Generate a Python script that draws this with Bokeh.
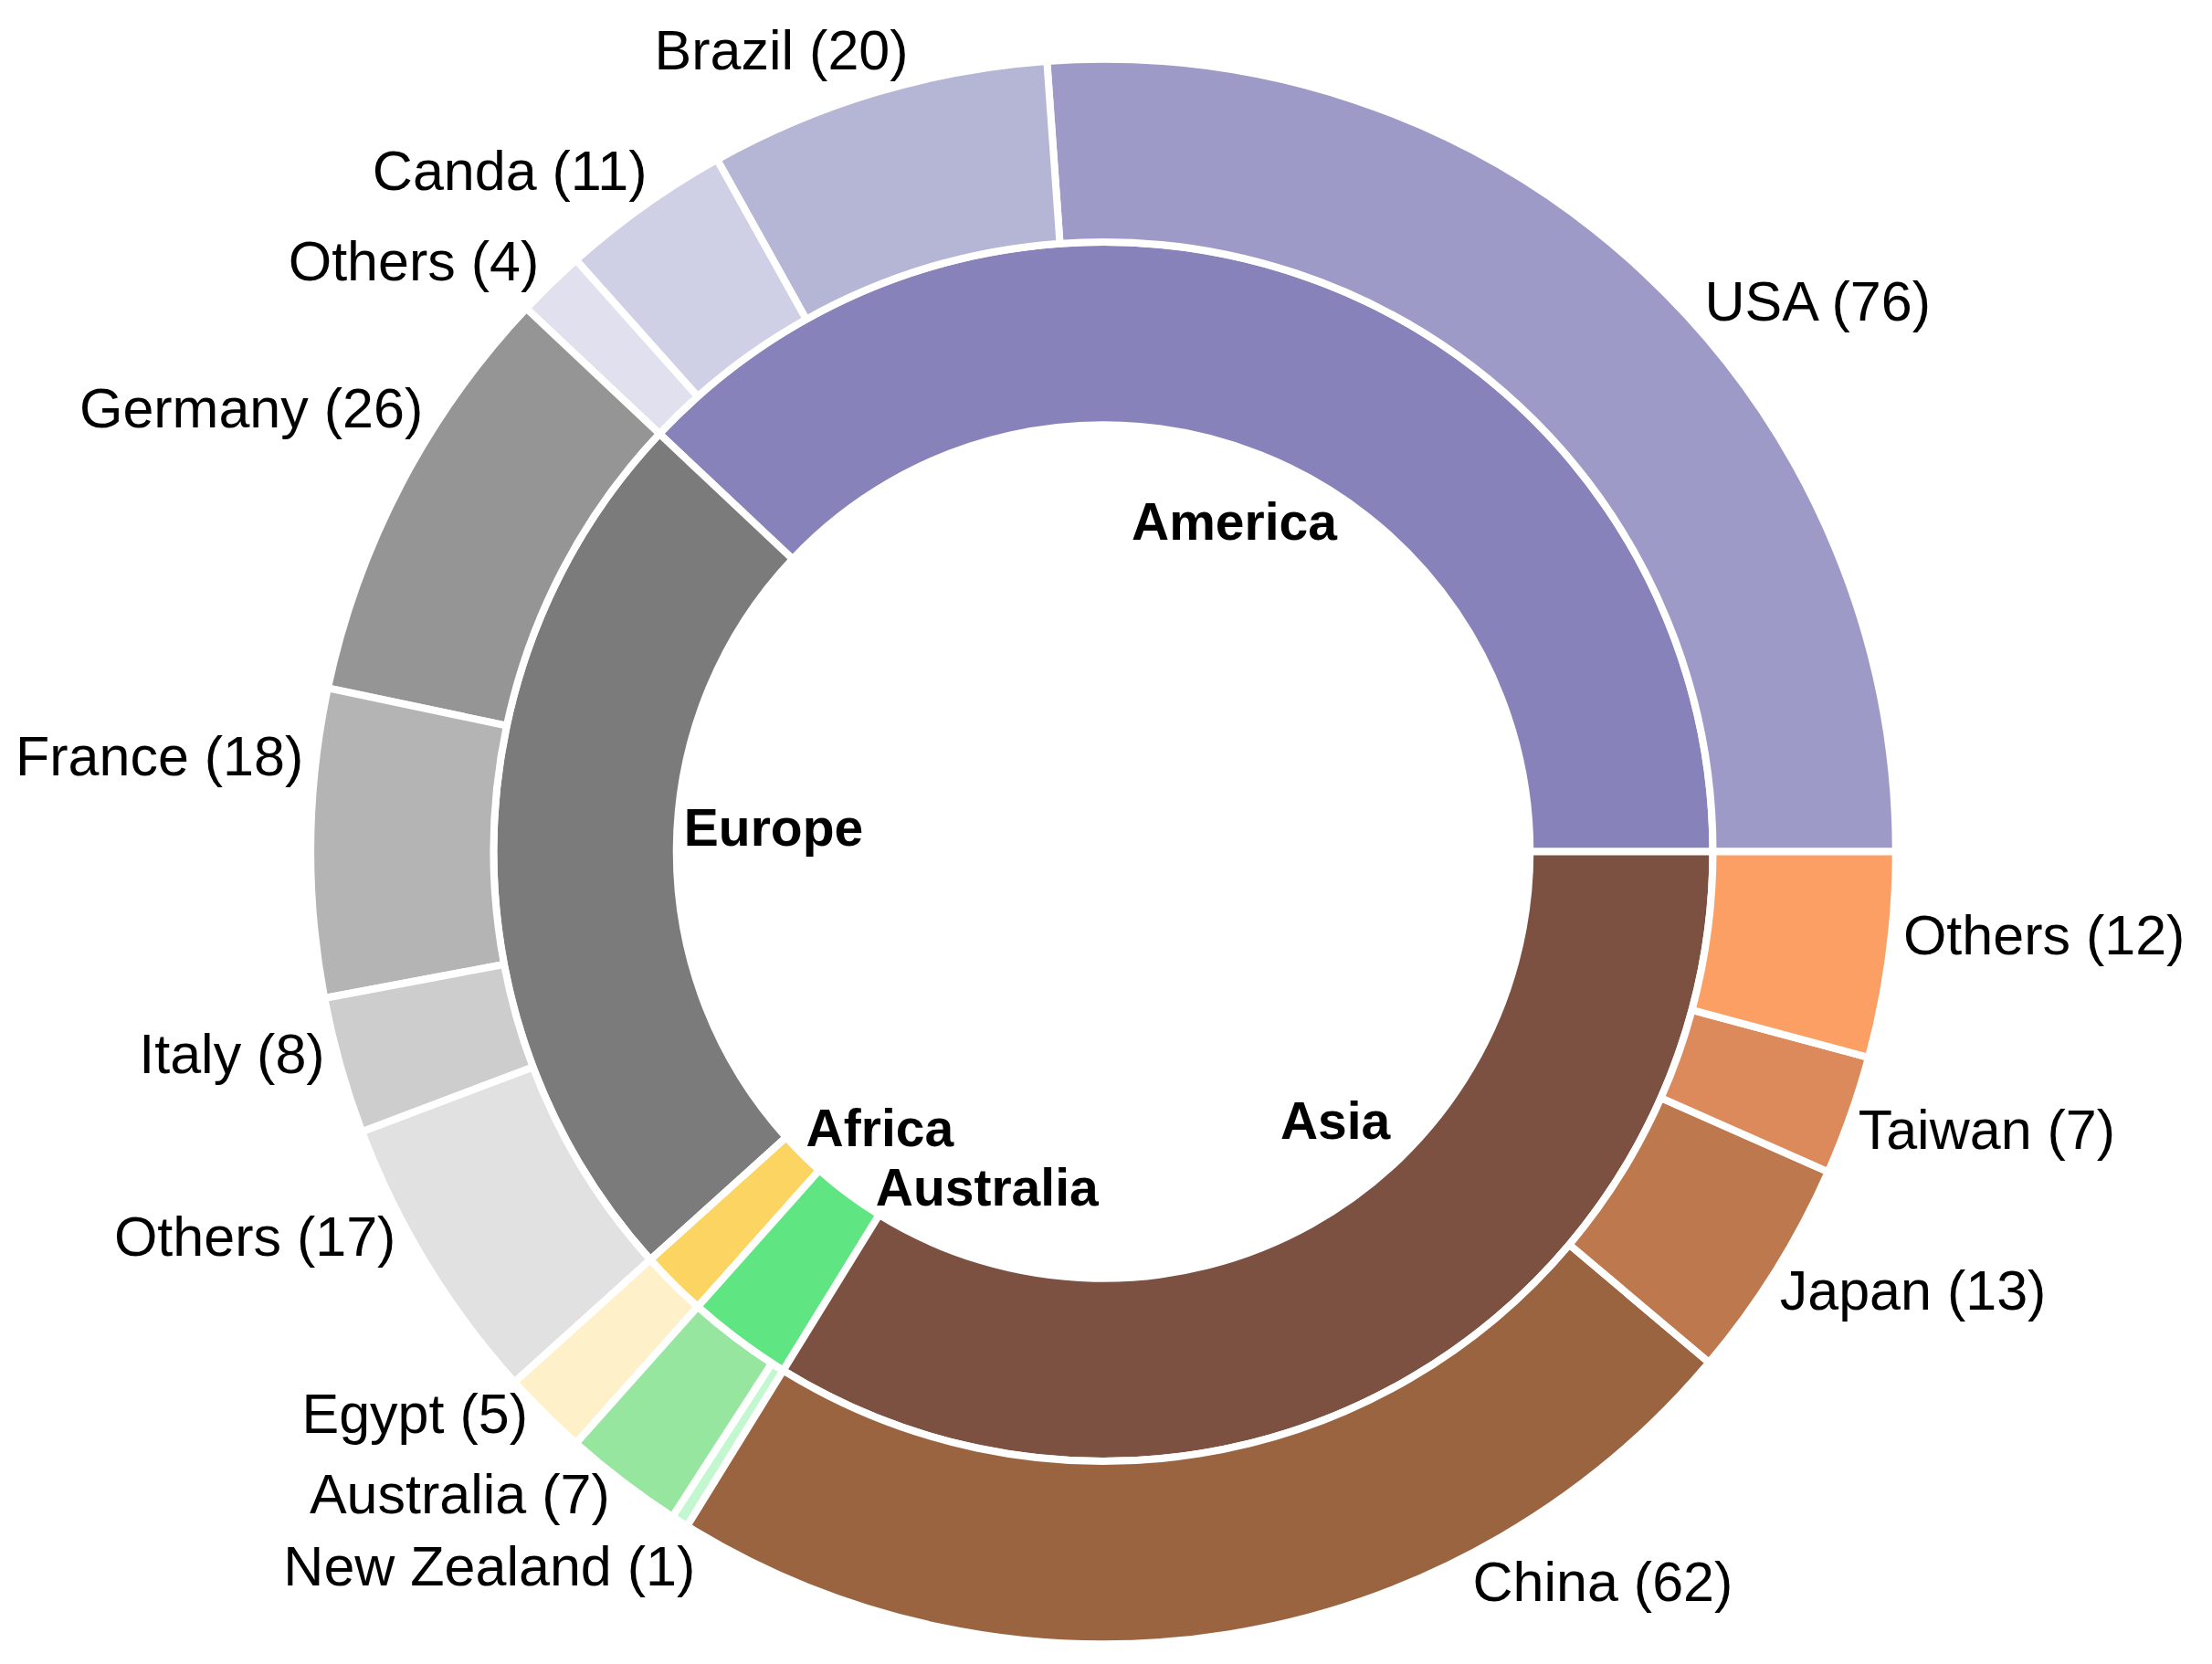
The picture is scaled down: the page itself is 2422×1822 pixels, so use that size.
import numpy as np
from bokeh.plotting import figure
from bokeh.models import ColumnDataSource, Range1d
from bokeh.core.properties import value
from bokeh.embed import file_html
from bokeh.resources import INLINE

# ---------------- data ----------------
regions = ["America", "Europe", "Africa", "Australia", "Asia"]
region_colors = ["#8783ba", "#7b7b7b", "#fbd462", "#5fe683", "#7c5142"]

countries = ["USA", "Brazil", "Canda", "Others",
             "Germany", "France", "Italy", "Others",
             "Egypt",
             "Australia", "New Zealand",
             "China", "Japan", "Taiwan", "Others"]
country_region = (["America"] * 4 + ["Europe"] * 4 + ["Africa"]
                  + ["Australia"] * 2 + ["Asia"] * 4)
# wedge sizes as drawn
country_values = [75, 20, 10, 4, 25, 18, 8, 17, 5, 7, 1, 65, 13, 7, 12]
# numbers printed in the labels
country_counts = [76, 20, 11, 4, 26, 18, 8, 17, 5, 7, 1, 62, 13, 7, 12]
country_colors = ["#9d9ac8", "#b5b5d6", "#cfcfe5", "#e0e0ef",
                  "#959595", "#b4b4b4", "#cdcdcd", "#e1e1e1",
                  "#fef0c8",
                  "#96e6a0", "#c2f7d0",
                  "#9b6440", "#bd794d", "#dc8a5b", "#fb9f64"]

# ---------------- layout ----------------
W, H = 2420, 1820
S = 667.5              # pixels per data unit
CX, CY = 1207.5, 932   # centre in canvas pixels
R_OUT, R_MID, R_IN = 1.3, 1.0, 0.7
RX_LABEL_OUT, RY_LABEL_OUT = 1.32, 1.345
LABEL_LIFT = 6 / S     # small upward shift of outer labels
R_LABEL_IN = 0.583
# angular shifts (degrees) / radial scales that keep labels clear of each other
outer_label_nudge = [-5.4, -2.6, -0.9, 0.3, -4.7, -5.7, -1.0, -2.9,
                     -1.1, -0.5, 2.3, 18.0, -0.8, -0.8, 1.3]
outer_label_rscale = [1.0, 1.0, 1.0, 1.0, 1.0, 1.0, 1.0, 1.0,
                      0.995, 1.0, 1.014, 1.008, 1.0, 1.0, 1.0]
inner_label_nudge = [0.0, -3.5, 5.9, 17.6, 11.6]
inner_label_rscale = [1.0, 0.93, 1.0, 1.0, 1.0]

region_values = [sum(v for v, r in zip(country_values, country_region) if r == reg)
                 for reg in regions]
total = float(sum(country_values))

def wedges(vals):
    ends = np.cumsum(vals) / total * 2 * np.pi
    starts = np.concatenate([[0.0], ends[:-1]])
    return starts, ends

r_start, r_end = wedges(region_values)
c_start, c_end = wedges(country_values)

p = figure(width=W, height=H, output_backend="svg", toolbar_location=None,
           x_range=Range1d(-CX / S, (W - CX) / S),
           y_range=Range1d(-(H - CY) / S, CY / S),
           min_border=0, background_fill_color="white",
           border_fill_color="white")
p.axis.visible = False
p.grid.visible = False
p.outline_line_color = None

inner_src = ColumnDataSource(dict(start=r_start, end=r_end, color=region_colors))
p.annular_wedge(x=0, y=0, inner_radius=R_IN, outer_radius=R_MID,
                start_angle="start", end_angle="end", source=inner_src,
                fill_color="color", line_color="white", line_width=8)

outer_src = ColumnDataSource(dict(start=c_start, end=c_end, color=country_colors))
p.annular_wedge(x=0, y=0, inner_radius=R_MID, outer_radius=R_OUT,
                start_angle="start", end_angle="end", source=outer_src,
                fill_color="color", line_color="white", line_width=8)

# outer labels
lx, ly, lt, la = [], [], [], []
for i, name in enumerate(countries):
    mid = np.degrees((c_start[i] + c_end[i]) / 2) + outer_label_nudge[i]
    a = np.radians(mid)
    k = outer_label_rscale[i]
    x = k * RX_LABEL_OUT * np.cos(a)
    y = k * RY_LABEL_OUT * np.sin(a) + LABEL_LIFT
    lx.append(x); ly.append(y)
    lt.append(f"{name} ({country_counts[i]})")
    la.append("left" if x > 0 else "right")
for side in ("left", "right"):
    idx = [i for i in range(len(lt)) if la[i] == side]
    p.text(x=[lx[i] for i in idx], y=[ly[i] for i in idx], text=[lt[i] for i in idx],
           text_align=side, text_baseline="middle",
           text_font=value("Liberation Sans"), text_font_size=value("61px"),
           text_color="black")

# inner labels
ix, iy = [], []
for i, reg in enumerate(regions):
    mid = np.degrees((r_start[i] + r_end[i]) / 2) + inner_label_nudge[i]
    a = np.radians(mid)
    r = R_LABEL_IN * inner_label_rscale[i]
    ix.append(r * np.cos(a)); iy.append(r * np.sin(a))
p.text(x=ix, y=iy, text=regions, text_align="center", text_baseline="middle",
       text_font=value("Liberation Sans"), text_font_size=value("57px"),
       text_font_style="bold", text_color="black")

open("out.html", "w").write(file_html(p, INLINE))
